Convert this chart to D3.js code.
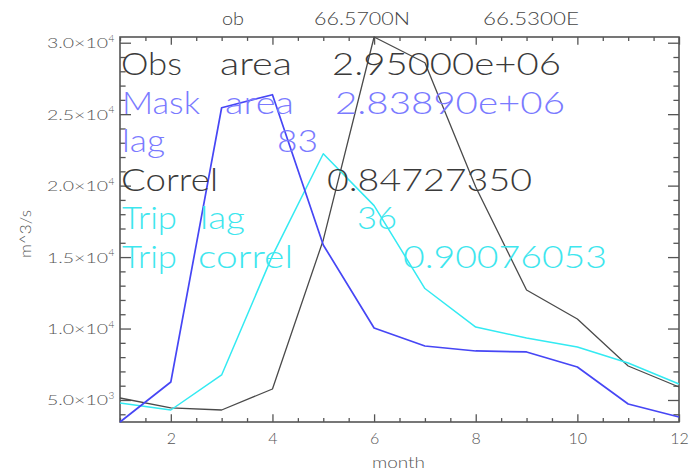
<!DOCTYPE html>
<html><head><meta charset="utf-8">
<script src="https://cdn.jsdelivr.net/npm/d3@7"></script>
<style>html,body{margin:0;padding:0;background:#fff;} svg{display:block;}</style>
</head><body>
<svg id="c" width="700" height="472"></svg>
<script>
// ---- data ----
const months = [1,2,3,4,5,6,7,8,9,10,11,12];
const obsFlow  = [5140,4450,4300,5770,16200,30400,28600,19900,12700,10670,7380,5910];
const maskFlow = [3460,6260,25450,26360,15850,10040,8780,8430,8360,7310,4720,3810];
const tripFlow = [4790,4300,6750,15100,22230,18600,12800,10100,9340,8710,7590,6120];
const yTickValues = [5000,10000,15000,20000,25000,30000];
const yTickMantissa = ["5.0","1.0","1.5","2.0","2.5","3.0"];
const yTickExponent = ["3","4","4","4","4","4"];
const xTickValues = [2,4,6,8,10,12];
const xTickLabels = ["2","4","6","8","10","12"];
const titleParts = ["ob","66.5700N","66.5300E"];
const statNames = [["Obs","area"],["Mask","area"],["lag"],["Correl"],["Trip","lag"],["Trip","correl"]];
const statValues = ["2.95000e+06","2.83890e+06","83","0.84727350","36","0.90076053"];
const xTitle = "month", yTitle = "m^3/s";

// ---- layout / style ----
const L = 120, R = 679, T = 37, B = 422;
const FONT = "Lato, 'DejaVu Sans', sans-serif";
const axisColor = "#555";
const colObs = "#4a4a4a", colMask = "#4646f5", colTrip = "#33eaf2";
const statColors = ["#3a3a3a","#7a7aff","#7a7aff","#3a3a3a","#3ee6ee","#3ee6ee"];
const statBaselines = [75,113.5,152,190.5,229,268];
const statWordPos = [
  [[121,182],[220,292]],
  [[122,200],[225,294]],
  [[122,165]],
  [[121,218]],
  [[122,177],[200,245]],
  [[122,177],[198,293]]
];
const statValuePos = [[332,561],[335,565],[277,318],[327,532],[357,397],[403,607]];
const titlePos = [[222,244],[314,410],[483,579]];

const svg = d3.select("#c");
const x = d3.scaleLinear().domain([d3.min(months), d3.max(months)]).range([L, R]);
const allVals = obsFlow.concat(maskFlow, tripFlow);
const y = d3.scaleLinear().domain([d3.min(allVals), d3.max(allVals)]).range([B, T]);

const xMinor = d3.range(1, 12.001, 0.5).filter(v => !xTickValues.includes(v));
const yMinor = d3.range(1000, 31000, 1000).filter(v => v % 5000 !== 0 && v >= y.domain()[0] && v <= y.domain()[1]);

function styleAxis(g) {
  g.select(".domain").remove();
  g.selectAll("line").attr("stroke", axisColor).attr("stroke-width", 1.3);
  g.selectAll("text").attr("fill", "#555").attr("font-family", FONT).attr("font-weight", 300).attr("font-size", 16);
}

// bottom
svg.append("g").attr("transform", `translate(0,${B})`)
  .call(d3.axisBottom(x).tickValues(xMinor).tickSizeInner(-3.9).tickSizeOuter(0).tickFormat(""))
  .call(styleAxis);
svg.append("g").attr("transform", `translate(0,${B})`)
  .call(d3.axisBottom(x).tickValues(xTickValues).tickSizeInner(-7.7).tickSizeOuter(0).tickPadding(11)
        .tickFormat((d, i) => xTickLabels[i]))
  .call(styleAxis);
// top
svg.append("g").attr("transform", `translate(0,${T})`)
  .call(d3.axisTop(x).tickValues(xMinor).tickSizeInner(-3.9).tickSizeOuter(0).tickFormat(""))
  .call(styleAxis);
svg.append("g").attr("transform", `translate(0,${T})`)
  .call(d3.axisTop(x).tickValues(xTickValues).tickSizeInner(-7.7).tickSizeOuter(0).tickFormat(""))
  .call(styleAxis);
// left
svg.append("g").attr("transform", `translate(${L},0)`)
  .call(d3.axisLeft(y).tickValues(yMinor).tickSizeInner(-5.6).tickSizeOuter(0).tickFormat(""))
  .call(styleAxis);
const yl = svg.append("g").attr("transform", `translate(${L},0)`)
  .call(d3.axisLeft(y).tickValues(yTickValues).tickSizeInner(-11).tickSizeOuter(0).tickFormat(""))
  .call(styleAxis);
yl.selectAll(".tick text").remove();
yl.selectAll(".tick").each(function(d, i) {
  const g = d3.select(this);
  g.append("text").attr("x", -73).attr("y", 5).attr("text-anchor", "start")
    .attr("textLength", 61).attr("lengthAdjust", "spacingAndGlyphs")
    .attr("font-family", FONT).attr("font-weight", 300).attr("font-size", 14).attr("fill", "#555")
    .text(yTickMantissa[i] + "×10");
  g.append("text").attr("x", -11.5).attr("y", -1.5).attr("text-anchor", "start")
    .attr("font-family", FONT).attr("font-weight", 300).attr("font-size", 10).attr("fill", "#555")
    .text(yTickExponent[i]);
});
// right
svg.append("g").attr("transform", `translate(${R},0)`)
  .call(d3.axisRight(y).tickValues(yMinor).tickSizeInner(-5.6).tickSizeOuter(0).tickFormat(""))
  .call(styleAxis);
svg.append("g").attr("transform", `translate(${R},0)`)
  .call(d3.axisRight(y).tickValues(yTickValues).tickSizeInner(-11).tickSizeOuter(0).tickFormat(""))
  .call(styleAxis);

// frame
svg.append("rect").attr("x", L).attr("y", T).attr("width", R - L).attr("height", B - T)
  .attr("fill", "none").attr("stroke", axisColor).attr("stroke-width", 1.6);

// axis titles
svg.append("text").attr("x", 372).attr("y", 468)
  .attr("textLength", 53).attr("lengthAdjust", "spacingAndGlyphs")
  .attr("font-family", FONT).attr("font-weight", 300).attr("font-size", 16).attr("fill", "#555").text(xTitle);
svg.append("text").attr("transform", "translate(31,258) rotate(-90)")
  .attr("textLength", 48).attr("lengthAdjust", "spacingAndGlyphs")
  .attr("font-family", FONT).attr("font-weight", 300).attr("font-size", 15).attr("fill", "#555").text(yTitle);

// top title
titleParts.forEach((s, i) => {
  svg.append("text").attr("x", titlePos[i][0]).attr("y", 25)
    .attr("textLength", titlePos[i][1] - titlePos[i][0]).attr("lengthAdjust", "spacingAndGlyphs")
    .attr("font-family", FONT).attr("font-weight", 300).attr("font-size", 17).attr("fill", "#444").text(s);
});

// lines
const line = d3.line().x((d, i) => x(months[i])).y(d => y(d));
[[obsFlow, colObs, 1.3], [tripFlow, colTrip, 1.5], [maskFlow, colMask, 1.7]].forEach(([data, c, w]) => {
  svg.append("path").datum(data).attr("d", line).attr("fill", "none")
    .attr("stroke", c).attr("stroke-width", w).attr("stroke-linejoin", "round");
});

// stats text
statNames.forEach((words, r) => {
  words.forEach((w, k) => {
    const p = statWordPos[r][k];
    svg.append("text").attr("x", p[0]).attr("y", statBaselines[r])
      .attr("textLength", p[1] - p[0]).attr("lengthAdjust", "spacingAndGlyphs")
      .attr("font-family", FONT).attr("font-weight", 300).attr("font-size", 32)
      .attr("fill", statColors[r]).text(w);
  });
  const pv = statValuePos[r];
  svg.append("text").attr("x", pv[0]).attr("y", statBaselines[r])
    .attr("textLength", pv[1] - pv[0]).attr("lengthAdjust", "spacingAndGlyphs")
    .attr("font-family", FONT).attr("font-weight", 300).attr("font-size", 32)
    .attr("fill", statColors[r]).text(statValues[r]);
});
</script>
</body></html>
